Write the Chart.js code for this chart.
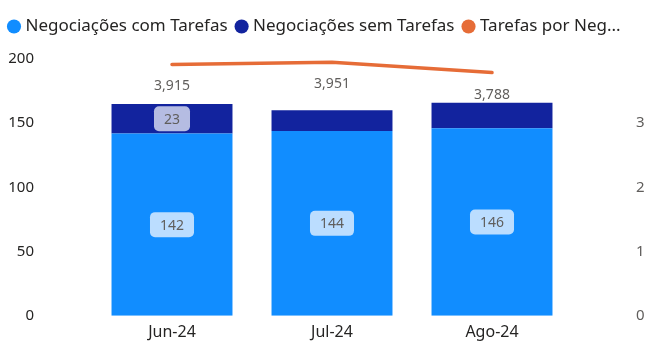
<!DOCTYPE html>
<html>
<head>
<meta charset="utf-8">
<script src="https://cdn.jsdelivr.net/npm/chart.js@4"></script>
<style>
html,body{margin:0;padding:0;background:#fff;}
#wrap{width:647px;height:354px;position:relative;}
</style>
</head>
<body>
<div id="wrap"><canvas id="c" width="647" height="354"></canvas></div>
<script>
const categories = ['Jun-24', 'Jul-24', 'Ago-24'];
const comTarefas = [142, 144, 146];
const semTarefas = [23, 16, 20];
const tarefasPorNeg = [3.915, 3.951, 3.788];
const seriesNames = ['Negociações com Tarefas', 'Negociações sem Tarefas', 'Tarefas por Negociação'];
const legendNames = ['Negociações com Tarefas', 'Negociações sem Tarefas', 'Tarefas por Neg...'];
const seriesColors = ['#118DFF', '#12239E', '#E66C37'];
const showComLabels = [true, true, true];
const showSemLabels = [true, false, false];

const FONT = '"Segoe UI", "Noto Sans", "Open Sans", sans-serif';

const labelPlugin = {
  id: 'labelPlugin',
  afterDatasetsDraw(chart) {
    const ctx = chart.ctx;
    ctx.save();
    ctx.font = '14px ' + FONT;
    ctx.textAlign = 'center';
    ctx.textBaseline = 'middle';
    const barSets = [
      {idx: 0, show: showComLabels, bg: '#BBDDFF'},
      {idx: 1, show: showSemLabels, bg: '#B5BCE2'}
    ];
    barSets.forEach(s => {
      const meta = chart.getDatasetMeta(s.idx);
      const data = chart.data.datasets[s.idx].data;
      meta.data.forEach((el, j) => {
        if (!s.show[j]) return;
        const txt = String(data[j]);
        const w = ctx.measureText(txt).width + 20;
        const h = 25;
        const cx = el.x;
        const cy = (el.y + el.base) / 2;
        ctx.fillStyle = s.bg;
        ctx.beginPath();
        ctx.roundRect(cx - w / 2, cy - h / 2, w, h, 5);
        ctx.fill();
        ctx.fillStyle = '#605E5C';
        ctx.fillText(txt, cx, cy + 1);
      });
    });
    const lm = chart.getDatasetMeta(2);
    const ld = chart.data.datasets[2].data;
    ctx.fillStyle = '#605E5C';
    lm.data.forEach((pt, j) => {
      const txt = ld[j].toFixed(3).replace('.', ',');
      ctx.fillText(txt, pt.x, pt.y + 22);
    });
    ctx.restore();
  }
};

const legendSpacer = {
  id: 'legendSpacer',
  beforeInit(chart) {
    const orig = chart.legend.fit;
    chart.legend.fit = function () {
      orig.bind(chart.legend)();
      this.height += 14;
    };
  }
};

function fixAxis(width) {
  return function(scale) {
    scale.width = width;
    scale.paddingTop = 10;
    scale.paddingBottom = 10;
  };
}

new Chart(document.getElementById('c'), {
  type: 'bar',
  data: {
    labels: categories,
    datasets: [
      {label: seriesNames[0], data: comTarefas, backgroundColor: seriesColors[0], stack: 's', order: 2, yAxisID: 'y', barPercentage: 0.756, categoryPercentage: 1},
      {label: seriesNames[1], data: semTarefas, backgroundColor: seriesColors[1], stack: 's', order: 2, yAxisID: 'y', barPercentage: 0.756, categoryPercentage: 1},
      {label: seriesNames[2], data: tarefasPorNeg, type: 'line', borderColor: seriesColors[2], backgroundColor: seriesColors[2], borderWidth: 3.5, pointRadius: 0, tension: 0, order: 1, yAxisID: 'y1', clip: false, borderCapStyle: 'round'}
    ]
  },
  options: {
    responsive: false,
    animation: false,
    devicePixelRatio: 1,
    layout: {padding: {left: 0, right: 2, top: 7, bottom: 5}},
    plugins: {
      tooltip: {enabled: false},
      legend: {
        display: true,
        position: 'top',
        align: 'start',
        labels: {
          usePointStyle: true,
          pointStyle: 'circle',
          boxWidth: 6,
          boxHeight: 10,
          padding: 11,
          color: '#252423',
          font: {family: FONT, size: 17},
          generateLabels(chart) {
            const items = Chart.defaults.plugins.legend.labels.generateLabels(chart);
            items.sort((a, b) => a.datasetIndex - b.datasetIndex);
            items.forEach(it => {
              const i = it.datasetIndex;
              it.text = legendNames[i];
              it.lineWidth = 0;
              it.fillStyle = seriesColors[i];
              it.strokeStyle = seriesColors[i];
            });
            return items;
          }
        }
      }
    },
    scales: {
      x: {
        stacked: true,
        grid: {display: false, drawTicks: false},
        border: {display: false},
        ticks: {color: '#252423', font: {family: FONT, size: 16}, padding: 7}
      },
      y: {
        stacked: true,
        min: 0, max: 200,
        position: 'left',
        grid: {display: false, drawTicks: false},
        border: {display: false},
        ticks: {stepSize: 50, color: '#252423', font: {family: FONT, size: 15}, padding: 58},
        afterFit: fixAxis(92)
      },
      y1: {
        min: 0, max: 4,
        position: 'right',
        grid: {display: false, drawTicks: false},
        border: {display: false},
        ticks: {stepSize: 1, color: '#605E5C', font: {family: FONT, size: 15}, padding: 64,
          callback: v => v === 4 ? '' : String(v)},
        afterFit: fixAxis(73)
      }
    }
  },
  plugins: [labelPlugin, legendSpacer]
});
</script>
</body>
</html>
